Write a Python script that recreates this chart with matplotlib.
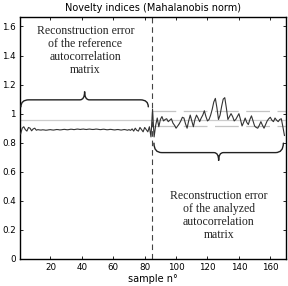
import matplotlib
matplotlib.use("Agg")
import matplotlib.pyplot as plt
from matplotlib.path import Path
from matplotlib.patches import PathPatch
from matplotlib.ticker import FormatStrFormatter, FuncFormatter

# ---- data ----
ref_values = [0.86, 0.90, 0.91, 0.89, 0.88, 0.905, 0.90, 0.882, 0.895, 0.90,
              0.886, 0.89, 0.888, 0.887, 0.889, 0.888, 0.886, 0.887, 0.889, 0.890,
              0.888, 0.887, 0.889, 0.891, 0.890, 0.888, 0.889, 0.891, 0.892, 0.890,
              0.889, 0.891, 0.893, 0.892, 0.890, 0.892, 0.894, 0.893, 0.891, 0.893,
              0.894, 0.892, 0.891, 0.893, 0.894, 0.892, 0.891, 0.892, 0.894, 0.893,
              0.891, 0.890, 0.892, 0.893, 0.891, 0.889, 0.890, 0.892, 0.891, 0.889,
              0.888, 0.890, 0.891, 0.889, 0.887, 0.889, 0.891, 0.889, 0.886, 0.890,
              0.885, 0.895, 0.880, 0.900, 0.885, 0.880, 0.905, 0.890, 0.875, 0.905,
              0.890, 0.875, 0.910, 0.840]
ana_values = [1.03, 0.84, 0.92, 0.97, 0.91, 0.96, 0.98, 0.95, 0.96, 0.965,
              0.945, 0.955, 0.965, 0.935, 0.92, 0.90, 0.915, 0.93, 0.95, 0.975,
              0.97, 0.93, 0.90, 0.95, 0.99, 0.95, 0.91, 0.96, 0.99, 0.97,
              0.945, 0.97, 0.99, 1.02, 0.98, 0.95, 0.96, 0.99, 1.03, 1.08,
              1.105, 1.04, 0.96, 0.99, 1.05, 1.10, 1.11, 1.04, 0.96, 0.98,
              1.00, 0.98, 0.95, 0.96, 0.98, 1.00, 0.96, 0.915, 0.94, 0.97,
              0.94, 0.925, 0.96, 0.985, 0.95, 0.915, 0.905, 0.90, 0.92, 0.945,
              0.92, 0.90, 0.925, 0.95, 0.965, 0.975, 0.955, 0.945, 0.97, 0.955,
              0.945, 0.96, 0.965, 0.91, 0.85]
values = ref_values + ana_values
samples = list(range(1, len(values) + 1))
split_sample = 84.85
mean_level = 0.957
upper_level = 1.018
lower_level = 0.918
xticks = [20, 40, 60, 80, 100, 120, 140, 160]
yticks = [0, 0.2, 0.4, 0.6, 0.8, 1.0, 1.2, 1.4, 1.6]
title = "Novelty indices (Mahalanobis norm)"
xlabel = "sample n\u00b0"
text_ref = "Reconstruction error\nof the reference\nautocorrelation\nmatrix"
text_ana = "Reconstruction error\nof the analyzed\nautocorrelation\nmatrix"

fig = plt.figure(figsize=(2.88, 2.86), dpi=100)
ax = fig.add_axes([20 / 288, 27 / 286, 265.7 / 288, 242 / 286])
ax.set_xlim(0.6, 169.8)
ax.set_ylim(0, 1.665)

ax.axhline(mean_level, color="#cccccc", lw=0.9, zorder=1)
ax.hlines([upper_level, lower_level], split_sample, 169.8, colors="#c4c4c4",
          lw=0.9, linestyles=(0, (19, 6)), zorder=1)
ax.plot(samples, values, color="#333333", lw=0.8, zorder=3)
ax.axvline(split_sample, color="#444444", lw=0.8, dashes=(5, 3.5), zorder=2)


def brace(ax, x0, x1, y, h_end, h_tip, r_end, r_tip, up=True):
    s = 1 if up else -1
    xm = (x0 + x1) / 2
    verts = [(x0, y - s * h_end), (x0, y), (x0 + r_end, y),
             (xm - r_tip, y), (xm, y), (xm, y + s * h_tip),
             (xm, y), (xm + r_tip, y),
             (x1 - r_end, y), (x1, y), (x1, y - s * h_end)]
    codes = [Path.MOVETO, Path.CURVE3, Path.CURVE3,
             Path.LINETO, Path.CURVE3, Path.CURVE3,
             Path.CURVE3, Path.CURVE3,
             Path.LINETO, Path.CURVE3, Path.CURVE3]
    ax.add_patch(PathPatch(Path(verts, codes), fill=False, lw=1.0,
                           color="#222222", capstyle="round", zorder=4))


brace(ax, 1.2, 82.3, 1.095, 0.048, 0.057, 5.0, 3.0, up=True)
brace(ax, 85.9, 168.3, 0.732, 0.065, 0.055, 5.0, 3.0, up=False)

serif = dict(family=["Liberation Serif", "DejaVu Serif"], fontsize=8.5,
             ha="center", va="center", linespacing=1.1, color="#222222")
ax.text(42.3, 1.436, text_ref, **serif)
ax.text(127.1, 0.30, text_ana, **serif)

ax.set_xticks(xticks)
ax.set_yticks(yticks)
ax.yaxis.set_major_formatter(FuncFormatter(lambda v, p: "%g" % round(v, 2)))
ax.tick_params(direction="in", length=2.5, width=0.6, labelsize=6.3,
               top=True, right=True, pad=3)
for sp in ax.spines.values():
    sp.set_linewidth(1.0)
ax.set_title(title, fontsize=7, pad=4)
ax.set_xlabel(xlabel, fontsize=7, labelpad=1.5)

fig.savefig("out.png", dpi=100)
